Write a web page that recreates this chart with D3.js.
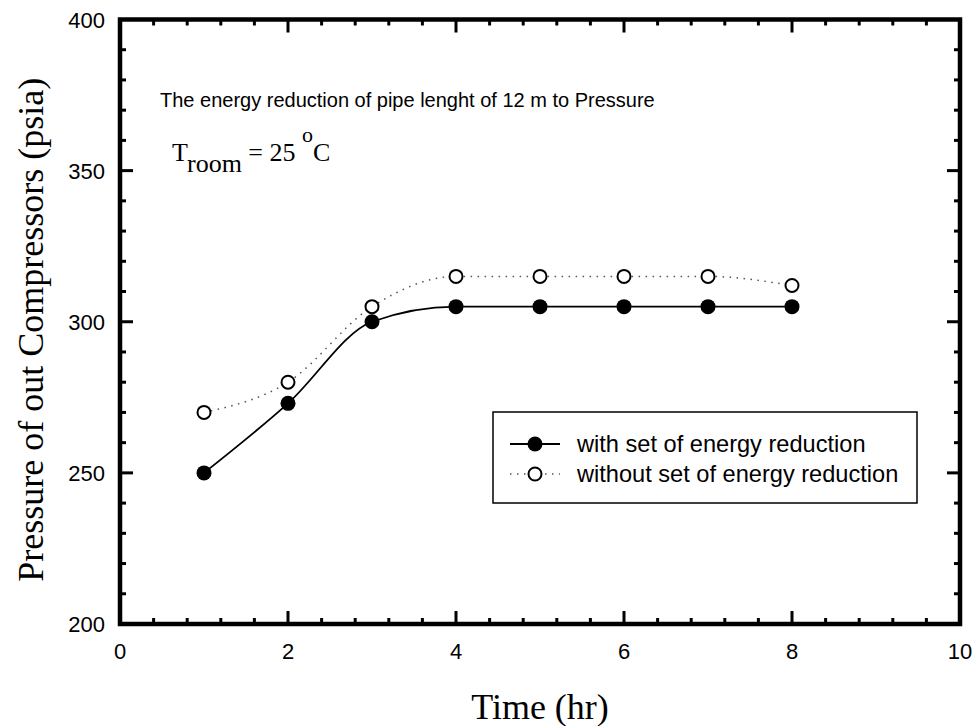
<!DOCTYPE html>
<html><head><meta charset="utf-8">
<script src="https://cdn.jsdelivr.net/npm/d3@7"></script>
<style>body{margin:0;background:#fff}svg{display:block}</style>
</head><body>
<svg id="chart" width="977" height="726"></svg>
<script>
const timeHr = [1, 2, 3, 4, 5, 6, 7, 8];
const withReduction = [250, 273, 300, 305, 305, 305, 305, 305];
const withoutReduction = [270, 280, 305, 315, 315, 315, 315, 312];
const xTicks = [0, 2, 4, 6, 8, 10];
const yTicks = [200, 250, 300, 350, 400];
const seriesNames = ["with set of energy reduction", "without set of energy reduction"];

const svg = d3.select("#chart");
const L = 120, R = 960, T = 19.5, B = 624;
const x = d3.scaleLinear().domain([0, 10]).range([L, R]);
const y = d3.scaleLinear().domain([200, 400]).range([B, T]);

// lines
const line = d3.line().x(d => x(d[0])).y(d => y(d[1])).curve(d3.curveMonotoneX);
const d1 = timeHr.map((t, i) => [t, withReduction[i]]);
const d2 = timeHr.map((t, i) => [t, withoutReduction[i]]);
svg.append("path").attr("d", line(d2)).attr("fill", "none").attr("stroke", "#555")
  .attr("stroke-width", 1.5).attr("stroke-dasharray", "1.5,5.5");
svg.append("path").attr("d", line(d1)).attr("fill", "none").attr("stroke", "#000")
  .attr("stroke-width", 1.8);
svg.selectAll("circle.o").data(d2).enter().append("circle")
  .attr("cx", d => x(d[0])).attr("cy", d => y(d[1])).attr("r", 6.5)
  .attr("fill", "#fff").attr("stroke", "#000").attr("stroke-width", 2);
svg.selectAll("circle.f").data(d1).enter().append("circle")
  .attr("cx", d => x(d[0])).attr("cy", d => y(d[1])).attr("r", 7.5).attr("fill", "#000");

// axes with ticks on all sides (inward)
function drawAxes() {
  const g = svg.append("g");
  const minorX = d3.range(0, 10.001, 0.4);
  const minorY = d3.range(200, 400.001, 10);
  const isMajX = v => xTicks.some(t => Math.abs(t - v) < 1e-6);
  const isMajY = v => yTicks.some(t => Math.abs(t - v) < 1e-6);
  minorX.forEach(v => {
    const len = isMajX(v) ? 13 : 6, w = 3;
    g.append("line").attr("x1", x(v)).attr("x2", x(v)).attr("y1", B).attr("y2", B - len)
      .attr("stroke", "#000").attr("stroke-width", w);
    g.append("line").attr("x1", x(v)).attr("x2", x(v)).attr("y1", T).attr("y2", T + len)
      .attr("stroke", "#000").attr("stroke-width", w);
  });
  minorY.forEach(v => {
    const len = isMajY(v) ? 13 : 6, w = 3;
    g.append("line").attr("y1", y(v)).attr("y2", y(v)).attr("x1", L).attr("x2", L + len)
      .attr("stroke", "#000").attr("stroke-width", w);
    g.append("line").attr("y1", y(v)).attr("y2", y(v)).attr("x1", R).attr("x2", R - len)
      .attr("stroke", "#000").attr("stroke-width", w);
  });
  g.append("rect").attr("x", L).attr("y", T).attr("width", R - L).attr("height", B - T)
    .attr("fill", "none").attr("stroke", "#000").attr("stroke-width", 4.5);
  // tick labels
  g.selectAll("text.xt").data(xTicks).enter().append("text")
    .attr("x", d => x(d)).attr("y", 659).attr("text-anchor", "middle")
    .attr("font-family", "Liberation Sans, Arial, sans-serif").attr("font-size", 22).text(d => d);
  g.selectAll("text.yt").data(yTicks).enter().append("text")
    .attr("x", 105).attr("y", d => y(d) + 8).attr("text-anchor", "end")
    .attr("font-family", "Liberation Sans, Arial, sans-serif").attr("font-size", 22).text(d => d);
}
drawAxes();

// axis titles
svg.append("text").attr("x", x(5)).attr("y", 719).attr("text-anchor", "middle")
  .attr("font-family", "Liberation Serif, Times New Roman, serif").attr("font-size", 36).text("Time (hr)");
svg.append("text").attr("transform", `translate(43,${(T + B) / 2 + 8}) rotate(-90)`).attr("text-anchor", "middle")
  .attr("font-family", "Liberation Serif, Times New Roman, serif").attr("font-size", 36)
  .text("Pressure of out Compressors (psia)");

// annotations
svg.append("text").attr("x", 160).attr("y", 107)
  .attr("font-family", "Liberation Sans, Arial, sans-serif").attr("font-size", 20)
  .text("The energy reduction of pipe lenght of 12 m to Pressure");
const tr = svg.append("text").attr("x", 172).attr("y", 161)
  .attr("font-family", "Liberation Serif, Times New Roman, serif").attr("font-size", 26);
tr.append("tspan").text("T");
tr.append("tspan").attr("dy", 11).text("room");
tr.append("tspan").attr("dy", -11).text(" = 25 ");
tr.append("tspan").attr("dy", -19).attr("font-size", 22).text("o");
tr.append("tspan").attr("dy", 19).text("C");

// legend
const lg = svg.append("g");
lg.append("rect").attr("x", 493).attr("y", 412).attr("width", 424).attr("height", 91)
  .attr("fill", "#fff").attr("stroke", "#000").attr("stroke-width", 1.5);
const ly = [444, 474];
lg.append("line").attr("x1", 510).attr("x2", 560).attr("y1", ly[0]).attr("y2", ly[0])
  .attr("stroke", "#000").attr("stroke-width", 1.8);
lg.append("circle").attr("cx", 535).attr("cy", ly[0]).attr("r", 7.5).attr("fill", "#000");
lg.append("line").attr("x1", 510).attr("x2", 560).attr("y1", ly[1]).attr("y2", ly[1])
  .attr("stroke", "#555").attr("stroke-width", 1.5).attr("stroke-dasharray", "1.5,5.5");
lg.append("circle").attr("cx", 535).attr("cy", ly[1]).attr("r", 6.5)
  .attr("fill", "#fff").attr("stroke", "#000").attr("stroke-width", 2);
seriesNames.forEach((n, i) => {
  lg.append("text").attr("x", 577).attr("y", ly[i] + 8)
    .attr("font-family", "Liberation Sans, Arial, sans-serif").attr("font-size", 23.6).text(n);
});
</script>
</body></html>
